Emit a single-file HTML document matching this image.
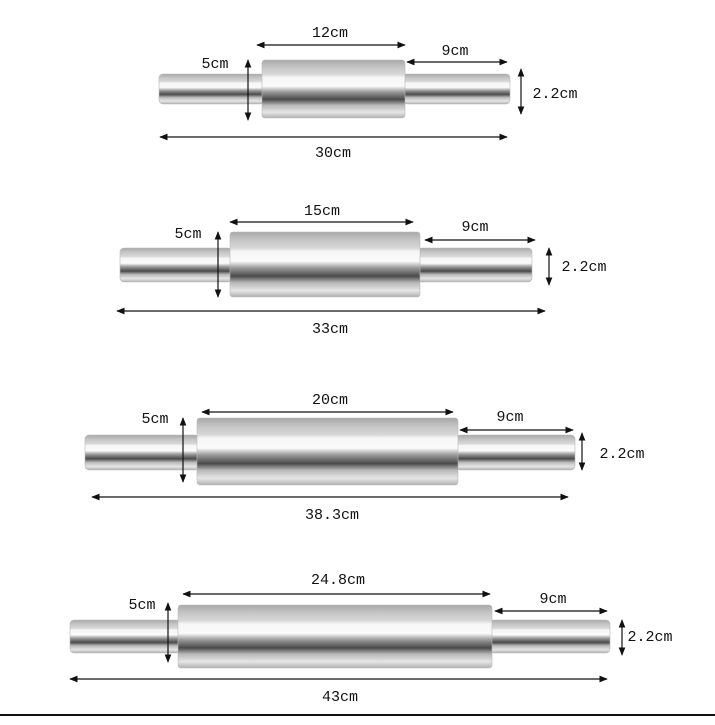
<!DOCTYPE html>
<html><head><meta charset="utf-8"><style>
html,body{margin:0;padding:0;background:#fff;}
svg{display:block}
text{font-family:"Liberation Mono","DejaVu Sans Mono",monospace;font-size:15px;fill:#111;}
</style></head><body>
<svg width="715" height="725" viewBox="0 0 715 725" xmlns="http://www.w3.org/2000/svg">
<defs>
<linearGradient id="g" x1="0" y1="0" x2="0" y2="1">
<stop offset="0" stop-color="#a8a8a8"/>
<stop offset="0.12" stop-color="#c4c4c4"/>
<stop offset="0.25" stop-color="#d8d8d8"/>
<stop offset="0.3" stop-color="#f6f6f6"/>
<stop offset="0.45" stop-color="#fafafa"/>
<stop offset="0.55" stop-color="#9a9a9a"/>
<stop offset="0.68" stop-color="#4a4a4a"/>
<stop offset="0.78" stop-color="#b8b8b8"/>
<stop offset="0.9" stop-color="#e6e6e6"/>
<stop offset="1" stop-color="#b0b0b0"/>
</linearGradient>
<marker id="a" viewBox="0 0 10 10" refX="9" refY="5" markerWidth="7" markerHeight="7" orient="auto-start-reverse"><path d="M0,1 L10,5 L0,9 z" fill="#111"/></marker>
</defs>
<g stroke="#111" stroke-width="1.2" fill="none" marker-start="url(#a)" marker-end="url(#a)">
<line x1="257" y1="45" x2="405" y2="45"/>
<line x1="407" y1="62" x2="507" y2="62"/>
<line x1="521" y1="69" x2="521" y2="114"/>
<line x1="160" y1="137" x2="507" y2="137"/>
<line x1="230" y1="222" x2="413" y2="222"/>
<line x1="425" y1="240" x2="535" y2="240"/>
<line x1="549" y1="248" x2="549" y2="285"/>
<line x1="117" y1="311" x2="545" y2="311"/>
<line x1="202" y1="412" x2="453" y2="412"/>
<line x1="460" y1="430" x2="573" y2="430"/>
<line x1="582" y1="433" x2="582" y2="470"/>
<line x1="92" y1="497" x2="568" y2="497"/>
<line x1="183" y1="594" x2="490" y2="594"/>
<line x1="495" y1="611" x2="607" y2="611"/>
<line x1="622" y1="620" x2="622" y2="655"/>
<line x1="70" y1="679" x2="607" y2="679"/>
</g>
<g fill="url(#g)" stroke="#b8b8b8" stroke-width="0.6">
<rect x="159" y="74" width="105" height="30" rx="4"/>
<rect x="403" y="74" width="107" height="30" rx="4"/>
<rect x="262" y="60" width="143" height="58" rx="3"/>
<rect x="120" y="248" width="112" height="34" rx="4"/>
<rect x="418" y="248" width="114" height="34" rx="4"/>
<rect x="230" y="232" width="190" height="65" rx="3"/>
<rect x="85" y="435" width="114" height="35" rx="4"/>
<rect x="456" y="435" width="119" height="35" rx="4"/>
<rect x="197" y="418" width="261" height="67" rx="3"/>
<rect x="70" y="620" width="110" height="33" rx="4"/>
<rect x="490" y="620" width="120" height="33" rx="4"/>
<rect x="178" y="605" width="314" height="63" rx="3"/>
</g>
<g stroke="#111" stroke-width="1.2" fill="none" marker-start="url(#a)" marker-end="url(#a)">
<line x1="248" y1="60" x2="248" y2="120"/>
<line x1="218" y1="232" x2="218" y2="297"/>
<line x1="183" y1="418" x2="183" y2="482"/>
<line x1="168" y1="603" x2="168" y2="662"/>
</g>
<g text-anchor="middle">
<text x="330" y="37">12cm</text>
<text x="455" y="55">9cm</text>
<text x="215" y="68">5cm</text>
<text x="555" y="98">2.2cm</text>
<text x="333" y="157">30cm</text>
<text x="322" y="215">15cm</text>
<text x="475" y="231">9cm</text>
<text x="188" y="238">5cm</text>
<text x="584" y="271">2.2cm</text>
<text x="330" y="333">33cm</text>
<text x="330" y="404">20cm</text>
<text x="510" y="421">9cm</text>
<text x="155" y="423">5cm</text>
<text x="622" y="458">2.2cm</text>
<text x="332" y="519">38.3cm</text>
<text x="338" y="584">24.8cm</text>
<text x="553" y="603">9cm</text>
<text x="142" y="609">5cm</text>
<text x="650" y="641">2.2cm</text>
<text x="340" y="701">43cm</text>
</g>
<rect x="0" y="714" width="715" height="2" fill="#111"/>
</svg>
</body></html>
